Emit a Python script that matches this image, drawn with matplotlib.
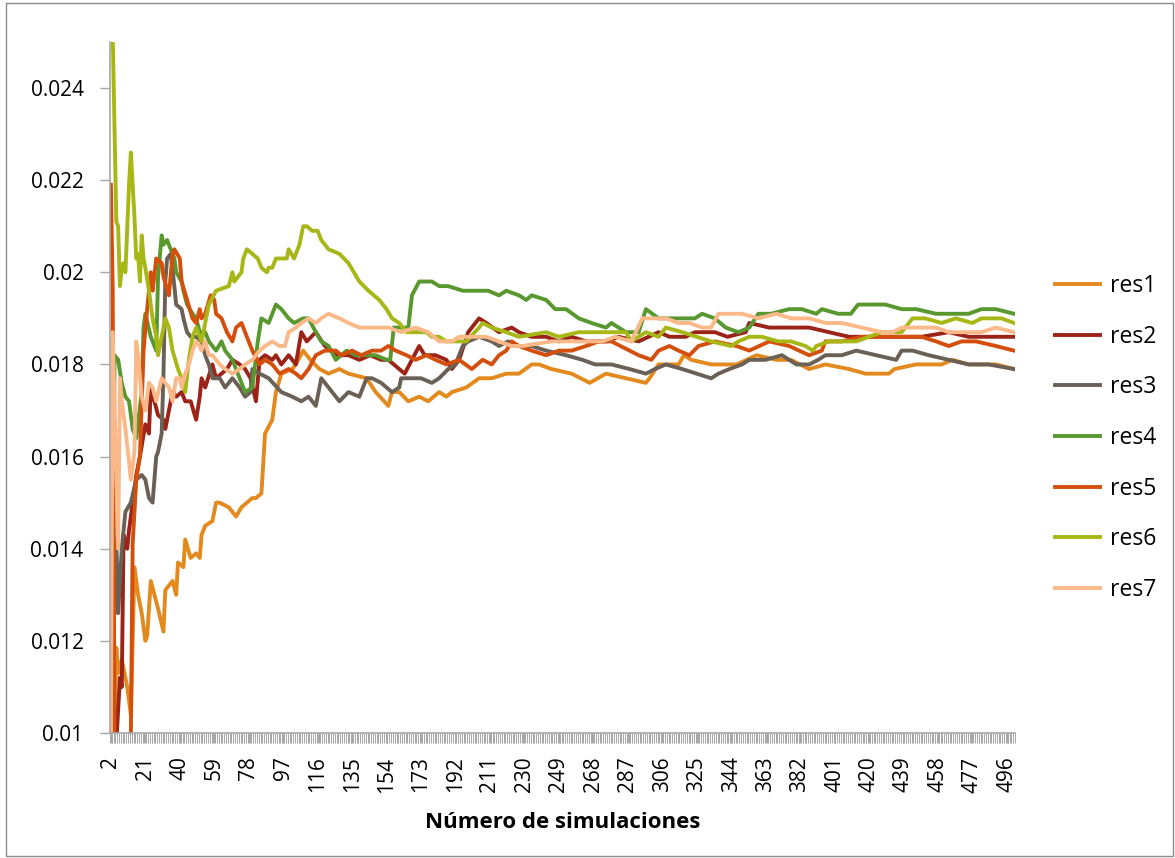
import numpy as np
import matplotlib
matplotlib.use("Agg")
from matplotlib import pyplot as plt
from matplotlib.patches import Rectangle
from matplotlib.ticker import FuncFormatter

plt.rcParams['font.family'] = ['Open Sans', 'DejaVu Sans']

# valores (numero de simulacion, resultado)
res1_x = [2, 4, 5, 6, 8, 11, 13, 15, 17, 19, 21, 22, 24, 28, 31, 32, 36, 38, 39, 42, 43, 46, 49, 51, 52, 54, 58, 60, 62,
          67, 71, 74, 77, 80, 82, 85, 87, 91, 93, 96, 102, 104, 108, 112, 117, 122, 128, 133, 143, 148, 155, 157, 161,
          166, 172, 177, 183, 187, 190, 198, 205, 212, 220, 227, 234, 238, 245, 256, 266, 275, 286, 297, 299, 304, 310,
          315, 318, 322, 333, 347, 358, 369, 377, 387, 396, 409, 418, 431, 434, 446, 460, 466, 475, 490, 500]
res1_y = [0.0128, 0.0098, 0.01185, 0.0113, 0.0116, 0.0110, 0.0104, 0.0136, 0.0130, 0.0126, 0.0120, 0.0121, 0.0133,
          0.0127, 0.0122, 0.0131, 0.0133, 0.0130, 0.0137, 0.0136, 0.0142, 0.0138, 0.0139, 0.0138, 0.0143, 0.0145,
          0.0146, 0.0150, 0.0150, 0.0149, 0.0147, 0.0149, 0.0150, 0.0151, 0.0151, 0.0152, 0.0165, 0.0168, 0.0174,
          0.0178, 0.0179, 0.0180, 0.0183, 0.0181, 0.0179, 0.0178, 0.0179, 0.0178, 0.0177, 0.0174, 0.0171, 0.0174,
          0.0174, 0.0172, 0.0173, 0.0172, 0.0174, 0.0173, 0.0174, 0.0175, 0.0177, 0.0177, 0.0178, 0.0178, 0.0180,
          0.0180, 0.0179, 0.0178, 0.0176, 0.0178, 0.0177, 0.0176, 0.0177, 0.0180, 0.0180, 0.0180, 0.0182, 0.0181,
          0.0180, 0.0180, 0.0182, 0.0181, 0.0181, 0.0179, 0.0180, 0.0179, 0.0178, 0.0178, 0.0179, 0.0180, 0.0180,
          0.0181, 0.0180, 0.0180, 0.0179]

res2_x = [2, 4, 5, 7, 8, 9, 11, 12, 14, 16, 18, 21, 23, 24, 26, 28, 31, 32, 34, 36, 38, 41, 43, 46, 49, 51, 52, 54,
          58, 60, 63, 66, 69, 73, 76, 79, 82, 84, 87, 91, 93, 96, 100, 104, 107, 110, 115, 120, 127, 133, 139, 145, 151,
          155, 161, 164, 168, 172, 175, 181, 187, 190, 194, 199, 205, 209, 216, 223, 227, 234, 242, 249, 256, 264, 275,
          282, 293, 304, 310, 319, 324, 335, 342, 352, 354, 365, 376, 387, 398, 409, 418, 427, 438, 449, 464, 475, 490,
          500]
res2_y = [0.0153, 0.0100, 0.0098, 0.0112, 0.0110, 0.0143, 0.0140, 0.0144, 0.0150, 0.0156, 0.0160, 0.0167, 0.0165,
          0.0175, 0.0172, 0.0169, 0.0168, 0.0166, 0.0170, 0.0174, 0.0173, 0.0174, 0.0172, 0.0172, 0.0168, 0.0173,
          0.0177, 0.0175, 0.0180, 0.0177, 0.0178, 0.0179, 0.0181, 0.0180, 0.0179, 0.0177, 0.0172, 0.0181, 0.0182,
          0.0181, 0.0182, 0.0180, 0.0182, 0.0180, 0.0187, 0.0185, 0.0187, 0.0184, 0.0182, 0.0182, 0.0181, 0.0182,
          0.0181, 0.0181, 0.0179, 0.0178, 0.0181, 0.0184, 0.0182, 0.0182, 0.0181, 0.0179, 0.0181, 0.0187, 0.0190,
          0.0189, 0.0187, 0.0188, 0.0187, 0.0186, 0.0186, 0.0185, 0.0186, 0.0185, 0.0185, 0.0186, 0.0185, 0.0187,
          0.0186, 0.0186, 0.0187, 0.0187, 0.0186, 0.0187, 0.0189, 0.0188, 0.0188, 0.0188, 0.0187, 0.0186, 0.0186,
          0.0186, 0.0186, 0.0186, 0.0187, 0.0186, 0.0186, 0.0186]

res3_x = [2, 4, 5, 6, 8, 10, 13, 16, 19, 21, 23, 25, 27, 28, 30, 31, 32, 33, 35, 37, 38, 41, 42, 44, 46, 49, 52, 54,
          56, 58, 62, 65, 69, 73, 76, 79, 80, 84, 89, 96, 102, 107, 111, 115, 118, 122, 128, 133, 139, 143, 146, 151,
          157, 161, 162, 168, 173, 179, 183, 188, 192, 196, 199, 205, 212, 216, 221, 227, 234, 242, 253, 262, 269, 278,
          288, 297, 302, 308, 317, 325, 333, 337, 343, 350, 354, 363, 372, 380, 387, 392, 396, 405, 413, 424, 435, 438,
          444, 453, 464, 475, 486, 500]
res3_y = [0.0154, 0.0126, 0.0142, 0.0126, 0.0140, 0.0148, 0.0150, 0.0155, 0.0156, 0.0155, 0.0151, 0.0150, 0.0160,
          0.0161, 0.0165, 0.0178, 0.0198, 0.0203, 0.0204, 0.0197, 0.0193, 0.0192, 0.0190, 0.0187, 0.0186, 0.0186,
          0.0185, 0.0182, 0.0180, 0.0177, 0.0177, 0.0175, 0.0177, 0.0175, 0.0173, 0.0174, 0.0179, 0.0178, 0.0177,
          0.0174, 0.0173, 0.0172, 0.0173, 0.0171, 0.0177, 0.0175, 0.0172, 0.0174, 0.0173, 0.0177, 0.0177, 0.0176,
          0.0174, 0.0175, 0.0177, 0.0177, 0.0177, 0.0176, 0.0177, 0.0179, 0.0180, 0.0184, 0.0185, 0.0186, 0.0185,
          0.0184, 0.0185, 0.0184, 0.0184, 0.0183, 0.0182, 0.0181, 0.0180, 0.0180, 0.0179, 0.0178, 0.0179, 0.0180,
          0.0179, 0.0178, 0.0177, 0.0178, 0.0179, 0.0180, 0.0181, 0.0181, 0.0182, 0.0180, 0.0180, 0.0181, 0.0182,
          0.0182, 0.0183, 0.0182, 0.0181, 0.0183, 0.0183, 0.0182, 0.0181, 0.0180, 0.0180, 0.0179]

res4_x = [2, 3, 4, 6, 8, 10, 12, 14, 16, 19, 20, 21, 24, 27, 28, 30, 31, 33, 35, 37, 38, 41, 42, 44, 47, 49, 51, 54,
          56, 60, 63, 65, 69, 73, 76, 80, 83, 85, 89, 93, 96, 100, 103, 108, 111, 115, 118, 122, 126, 132, 137, 143, 148,
          154, 156, 158, 162, 166, 168, 172, 176, 179, 183, 188, 196, 203, 210, 216, 220, 227, 231, 234, 242, 247, 253,
          260, 267, 275, 278, 286, 293, 297, 304, 311, 317, 324, 328, 335, 341, 348, 354, 359, 366, 376, 383, 391, 394,
          403, 410, 414, 424, 429, 438, 446, 457, 464, 475, 482, 490, 500]
res4_y = [0.0155, 0.0098, 0.0182, 0.0181, 0.0176, 0.0173, 0.0172, 0.0166, 0.0164, 0.0174, 0.0188, 0.0191, 0.0186,
          0.0183, 0.0199, 0.0208, 0.0206, 0.0207, 0.0205, 0.0203, 0.0200, 0.0198, 0.0196, 0.0193, 0.0191, 0.0190,
          0.0187, 0.0187, 0.0185, 0.0183, 0.0185, 0.0183, 0.0181, 0.0177, 0.0174, 0.0175, 0.0185, 0.0190, 0.0189,
          0.0193, 0.0192, 0.0190, 0.0189, 0.0190, 0.0190, 0.0187, 0.0185, 0.0184, 0.0181, 0.0183, 0.0182, 0.0182,
          0.0182, 0.0181, 0.0181, 0.0188, 0.0188, 0.0188, 0.0195, 0.0198, 0.0198, 0.0198, 0.0197, 0.0197, 0.0196,
          0.0196, 0.0196, 0.0195, 0.0196, 0.0195, 0.0194, 0.0195, 0.0194, 0.0192, 0.0192, 0.0190, 0.0189, 0.0188,
          0.0189, 0.0187, 0.0187, 0.0192, 0.0190, 0.0190, 0.0190, 0.0190, 0.0191, 0.0190, 0.0188, 0.0187, 0.0188,
          0.0191, 0.0191, 0.0192, 0.0192, 0.0191, 0.0192, 0.0191, 0.0191, 0.0193, 0.0193, 0.0193, 0.0192, 0.0192,
          0.0191, 0.0191, 0.0191, 0.0192, 0.0192, 0.0191]

res5_x = [2, 3, 4, 13, 14, 16, 18, 20, 22, 24, 25, 27, 30, 31, 34, 36, 37, 40, 41, 44, 47, 49, 51, 52, 54, 57, 59, 60,
          63, 66, 69, 71, 74, 77, 80, 84, 87, 91, 95, 100, 104, 107, 111, 115, 120, 126, 129, 135, 140, 146, 151, 155,
          159, 165, 170, 176, 181, 187, 194, 201, 207, 212, 216, 220, 223, 227, 234, 242, 249, 256, 264, 271, 278, 293,
          300, 304, 310, 315, 321, 326, 335, 347, 354, 365, 376, 387, 394, 396, 405, 416, 427, 438, 449, 457, 464, 471,
          479, 490, 500]
res5_y = [0.0219, 0.0196, 0.0098, 0.0099, 0.0141, 0.0155, 0.0160, 0.0183, 0.0192, 0.0200, 0.0196, 0.0203, 0.0202,
          0.0199, 0.0195, 0.0204, 0.0205, 0.0203, 0.0198, 0.0194, 0.0190, 0.0189, 0.0192, 0.0190, 0.0191, 0.0195,
          0.0194, 0.0191, 0.0190, 0.0187, 0.0185, 0.0188, 0.0189, 0.0186, 0.0183, 0.0180, 0.0181, 0.0180, 0.0178,
          0.0179, 0.0178, 0.0177, 0.0179, 0.0182, 0.0183, 0.0183, 0.0182, 0.0183, 0.0182, 0.0183, 0.0183, 0.0184,
          0.0183, 0.0182, 0.0181, 0.0182, 0.0181, 0.0180, 0.0181, 0.0179, 0.0181, 0.0180, 0.0182, 0.0183, 0.0185,
          0.0184, 0.0183, 0.0182, 0.0183, 0.0183, 0.0184, 0.0185, 0.0185, 0.0182, 0.0181, 0.0183, 0.0184, 0.0183,
          0.0182, 0.0184, 0.0185, 0.0184, 0.0183, 0.0185, 0.0184, 0.0182, 0.0183, 0.0185, 0.0185, 0.0186, 0.0186,
          0.0186, 0.0186, 0.0185, 0.0184, 0.0185, 0.0185, 0.0184, 0.0183]

res6_x = [2, 3, 5, 6, 7, 8, 9, 10, 12, 13, 15, 16, 17, 18, 19, 20, 21, 23, 25, 27, 28, 30, 32, 34, 36, 39, 41, 43, 45,
          47, 49, 52, 56, 60, 67, 69, 70, 72, 74, 75, 77, 80, 83, 85, 88, 89, 91, 93, 96, 99, 100, 103, 106, 108, 110,
          113, 116, 118, 122, 128, 133, 139, 144, 150, 154, 157, 161, 165, 168, 176, 179, 183, 187, 194, 198, 205, 207,
          212, 220, 227, 242, 249, 260, 271, 286, 289, 297, 304, 308, 317, 325, 333, 344, 348, 354, 361, 370, 377, 385,
          389, 391, 398, 413, 420, 427, 438, 444, 451, 460, 468, 477, 482, 493, 500]
res6_y = [0.0260, 0.0252, 0.0211, 0.0210, 0.0197, 0.0201, 0.0202, 0.0200, 0.0219, 0.0226, 0.0212, 0.0203, 0.0204,
          0.0198, 0.0208, 0.0203, 0.0201, 0.0196, 0.0190, 0.0186, 0.0182, 0.0186, 0.0190, 0.0188, 0.0183, 0.0179,
          0.0177, 0.0174, 0.0181, 0.0186, 0.0188, 0.0185, 0.0193, 0.0196, 0.0197, 0.0200, 0.0198, 0.0199, 0.0200,
          0.0203, 0.0205, 0.0204, 0.0203, 0.0201, 0.0200, 0.0201, 0.0201, 0.0203, 0.0203, 0.0203, 0.0205, 0.0203,
          0.0206, 0.0210, 0.0210, 0.0209, 0.0209, 0.0207, 0.0205, 0.0204, 0.0202, 0.0198, 0.0196, 0.0194, 0.0192,
          0.0190, 0.0189, 0.0187, 0.0187, 0.0187, 0.0186, 0.0186, 0.0185, 0.0185, 0.0185, 0.0188, 0.0189, 0.0188,
          0.0187, 0.0186, 0.0187, 0.0186, 0.0187, 0.0187, 0.0187, 0.0185, 0.0187, 0.0186, 0.0188, 0.0187, 0.0186,
          0.0185, 0.0184, 0.0185, 0.0186, 0.0186, 0.0185, 0.0185, 0.0184, 0.0183, 0.0184, 0.0185, 0.0185, 0.0186,
          0.0187, 0.0187, 0.0190, 0.0190, 0.0189, 0.0190, 0.0189, 0.0190, 0.0190, 0.0189]

res7_x = [2, 3, 5, 6, 7, 8, 10, 12, 13, 15, 16, 17, 19, 21, 23, 25, 27, 30, 32, 34, 36, 38, 40, 41, 43, 45, 47, 49, 51,
          52, 54, 56, 58, 62, 65, 69, 73, 76, 80, 84, 87, 91, 95, 98, 100, 104, 107, 111, 115, 118, 122, 128, 133, 139,
          144, 150, 155, 162, 170, 177, 183, 190, 194, 201, 209, 216, 223, 229, 245, 253, 260, 273, 280, 289, 295, 300,
          308, 315, 321, 328, 333, 337, 344, 350, 359, 369, 377, 387, 396, 405, 416, 427, 433, 438, 446, 457, 464, 475,
          482, 490, 500]
res7_y = [0.0098, 0.0187, 0.0155, 0.0140, 0.0177, 0.0172, 0.0166, 0.0159, 0.0155, 0.0161, 0.0185, 0.0182, 0.0173,
          0.0170, 0.0176, 0.0175, 0.0172, 0.0177, 0.0176, 0.0175, 0.0172, 0.0177, 0.0177, 0.0175, 0.0178, 0.0180,
          0.0183, 0.0185, 0.0184, 0.0183, 0.0185, 0.0182, 0.0182, 0.0180, 0.0179, 0.0178, 0.0179, 0.0180, 0.0181,
          0.0183, 0.0184, 0.0185, 0.0184, 0.0184, 0.0187, 0.0188, 0.0189, 0.0190, 0.0189, 0.0190, 0.0191, 0.0190,
          0.0189, 0.0188, 0.0188, 0.0188, 0.0188, 0.0187, 0.0188, 0.0187, 0.0185, 0.0185, 0.0186, 0.0186, 0.0186,
          0.0185, 0.0184, 0.0184, 0.0185, 0.0185, 0.0185, 0.0185, 0.0186, 0.0185, 0.0190, 0.0190, 0.0190, 0.0189,
          0.0189, 0.0188, 0.0188, 0.0191, 0.0191, 0.0191, 0.0190, 0.0191, 0.0190, 0.0190, 0.0189, 0.0189, 0.0188,
          0.0187, 0.0187, 0.0188, 0.0188, 0.0188, 0.0187, 0.0187, 0.0187, 0.0188, 0.0187]

names = ['res1', 'res2', 'res3', 'res4', 'res5', 'res6', 'res7']
colores = ['#E38A1E', '#9B2318', '#6A6055', '#58982F', '#D44F0B', '#A7B716', '#FBB98A']
series = [(res1_x, res1_y), (res2_x, res2_y), (res3_x, res3_y), (res4_x, res4_y),
          (res5_x, res5_y), (res6_x, res6_y), (res7_x, res7_y)]

fig = plt.figure(figsize=(11.75, 8.58), dpi=100)
ax = fig.add_axes([0.0936, 0.1457, 0.7702, 0.8054])

for (xs, ys), nom, col in zip(series, names, colores):
    ax.plot(xs, ys, color=col, lw=2.8, label=nom, solid_joinstyle='round')

ax.set_xlim(1.5, 500.5)
ax.set_ylim(0.01, 0.025)

ax.set_yticks(np.arange(0.01, 0.0241, 0.002))
ax.yaxis.set_major_formatter(FuncFormatter(lambda v, p: f"{v:g}"))
ax.set_xticks(range(2, 501, 19))
ax.set_xticks(np.arange(1.5, 501, 1), minor=True)
ax.tick_params(axis='x', which='both', length=7, width=0.7, color='#A6A6A6',
               labelsize=15, labelrotation=90, pad=10)
ax.tick_params(axis='y', length=7, width=1, color='#A6A6A6', labelsize=15, pad=12)
for lbl in ax.get_xticklabels():
    lbl.set_verticalalignment('top')

for s in ['top', 'right']:
    ax.spines[s].set_visible(False)
for s in ['left', 'bottom']:
    ax.spines[s].set_color('#A6A6A6')
    ax.spines[s].set_linewidth(1.2)

ax.set_xlabel('Número de simulaciones', fontsize=16, fontweight='bold', labelpad=14)

fig.legend(loc='center left', bbox_to_anchor=(0.88, 0.4895), frameon=False, fontsize=16.5,
           handlelength=2.0, handletextpad=0.4, labelspacing=1.16)

fig.patches.append(Rectangle((0.005, 0.002), 0.993, 0.995, transform=fig.transFigure,
                             fill=False, edgecolor='#8C8C8C', lw=1))

fig.savefig('out.png', dpi=100)
